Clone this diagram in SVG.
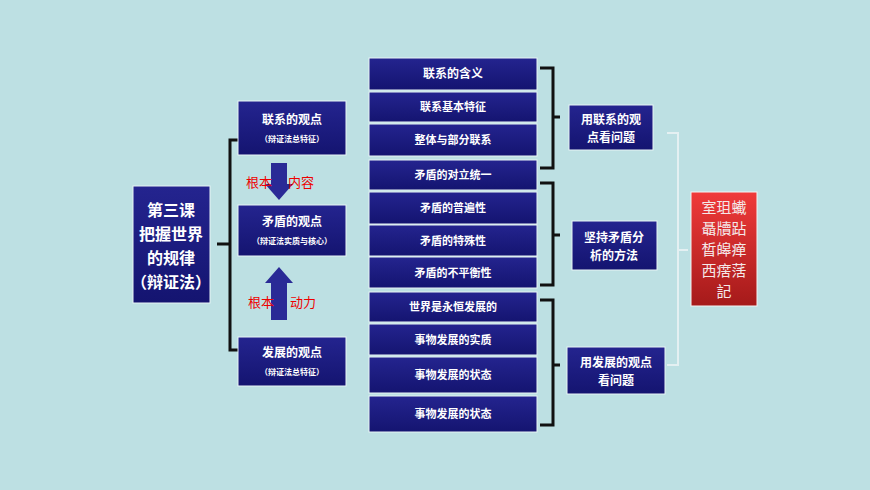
<svg xmlns="http://www.w3.org/2000/svg" width="870" height="490" viewBox="0 0 870 490">
<defs>
<linearGradient id="bg" x1="0" y1="0" x2="0" y2="1"><stop offset="0" stop-color="#24248f"/><stop offset="1" stop-color="#141470"/></linearGradient>
<linearGradient id="rg" x1="0" y1="0" x2="0" y2="1"><stop offset="0" stop-color="#f03a3a"/><stop offset="1" stop-color="#a51a1a"/></linearGradient>
</defs>
<style>
.b{fill:url(#bg);stroke:#e8f4f6;stroke-width:1}
.t{fill:#fff;font-family:"Noto Sans CJK SC",sans-serif;font-weight:bold;text-anchor:middle}
.br{fill:none;stroke:#111;stroke-width:3}
.r{fill:#e00;font-family:"Noto Sans CJK SC",sans-serif;font-size:13px}
.ar{fill:#2a2a96}
</style>
<rect width="870" height="490" fill="#bde0e3"/>
<g id="connectors">
<path class="br" d="M238,140 H230 V350 H238 M230,244 H217"/>
<path class="br" d="M540,68 H553 V168 H540 M553,117 H560"/>
<path class="br" d="M540,183 H553 V285 H540 M553,235 H560"/>
<path class="br" d="M540,300 H553 V425 H540 M553,365 H560"/>
<path d="M667,133 H678 V365 H667 M678,250 H688" fill="none" stroke="#e4f0f2" stroke-width="2"/>
<polygon class="ar" points="271,163 287,163 287,184 293,184 279,200 265,184 271,184"/>
<polygon class="ar" points="271,320 287,320 287,283 293,283 279,267 265,283 271,283"/>
<text class="r" x="246" y="187">根本</text><text class="r" x="288" y="187">内容</text>
<text class="r" x="248" y="307">根本</text><text class="r" x="290" y="307">动力</text>
</g>
<g id="main"><rect class="b" x="133" y="186" width="77" height="117"/>
<text class="t" font-size="16"><tspan x="171" y="216">第三课</tspan><tspan x="171" y="240">把握世界</tspan><tspan x="171" y="264">的规律</tspan><tspan x="171" y="288">（辩证法）</tspan></text></g>
<g id="lianxi"><rect class="b" x="238" y="101" width="108" height="54"/><text class="t" font-size="12" x="292" y="124">联系的观点</text><text class="t" font-size="8" x="292" y="142">（辩证法总特征）</text></g>
<g id="maodun"><rect class="b" x="238" y="205" width="108" height="51"/><text class="t" font-size="12" x="292" y="226">矛盾的观点</text><text class="t" font-size="8" x="292" y="244">（辩证法实质与核心）</text></g>
<g id="fazhan"><rect class="b" x="238" y="337" width="108" height="49"/><text class="t" font-size="12" x="292" y="357">发展的观点</text><text class="t" font-size="8" x="292" y="375">（辩证法总特征）</text></g>
<g id="mid">
<rect class="b" x="369" y="58" width="168" height="32"/><text class="t" font-size="12" x="453" y="78">联系的含义</text>
<rect class="b" x="369" y="92" width="168" height="30"/><text class="t" font-size="11" x="453" y="111">联系基本特征</text>
<rect class="b" x="369" y="124" width="168" height="32"/><text class="t" font-size="11" x="453" y="144">整体与部分联系</text>
<rect class="b" x="369" y="160" width="168" height="30"/><text class="t" font-size="11" x="453" y="179">矛盾的对立统一</text>
<rect class="b" x="369" y="192" width="168" height="32"/><text class="t" font-size="11" x="453" y="212">矛盾的普遍性</text>
<rect class="b" x="369" y="225" width="168" height="31"/><text class="t" font-size="11" x="453" y="245">矛盾的特殊性</text>
<rect class="b" x="369" y="257" width="168" height="31"/><text class="t" font-size="11" x="453" y="277">矛盾的不平衡性</text>
<rect class="b" x="369" y="292" width="168" height="30"/><text class="t" font-size="11" x="453" y="311">世界是永恒发展的</text>
<rect class="b" x="369" y="324" width="168" height="31"/><text class="t" font-size="11" x="453" y="344">事物发展的实质</text>
<rect class="b" x="369" y="357" width="168" height="36"/><text class="t" font-size="11" x="453" y="379">事物发展的状态</text>
<rect class="b" x="369" y="396" width="168" height="36"/><text class="t" font-size="11" x="453" y="418">事物发展的状态</text>
</g>
<g id="r1"><rect class="b" x="569" y="105" width="84" height="45"/><text class="t" font-size="12"><tspan x="611" y="124">用联系的观</tspan><tspan x="611" y="142">点看问题</tspan></text></g>
<g id="r2"><rect class="b" x="572" y="221" width="85" height="49"/><text class="t" font-size="12"><tspan x="614" y="242">坚持矛盾分</tspan><tspan x="614" y="260">析的方法</tspan></text></g>
<g id="r3"><rect class="b" x="567" y="347" width="98" height="47"/><text class="t" font-size="12"><tspan x="616" y="367">用发展的观点</tspan><tspan x="616" y="385">看问题</tspan></text></g>
<g id="red"><rect x="691" y="192" width="66" height="114" fill="url(#rg)" stroke="#f4f4f4"/>
<text font-family="'Noto Sans CJK SC',serif" font-size="15" fill="#f4e8e8" text-anchor="middle"><tspan x="724" y="213">室珇蠘</tspan><tspan x="724" y="234">聶牘跕</tspan><tspan x="724" y="255">晳皞瘅</tspan><tspan x="724" y="276">西瘔萿</tspan><tspan x="724" y="297">記</tspan></text></g>
</svg>
